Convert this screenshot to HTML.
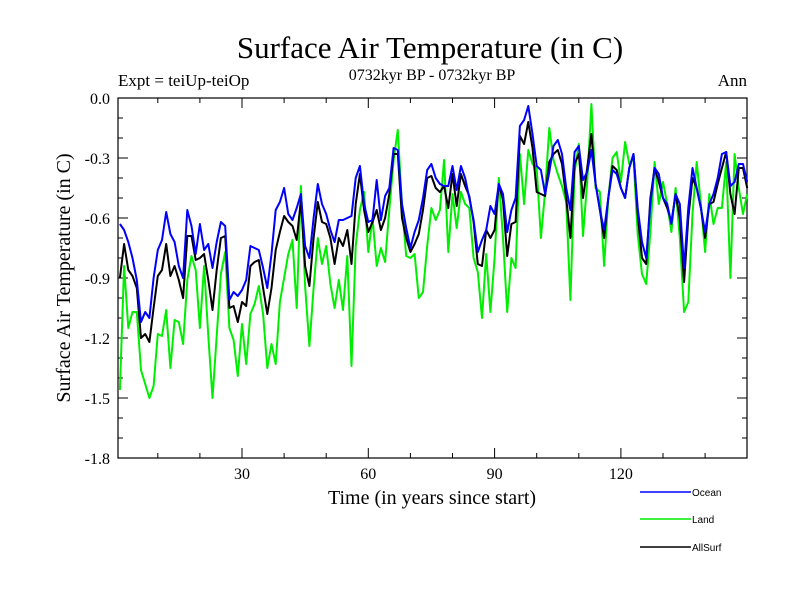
<!DOCTYPE html>
<html><head><meta charset="utf-8"><style>
body{margin:0;background:#fff;}
svg{display:block;}
text{font-family:"Liberation Serif",serif;}
</style></head><body>
<svg id="chart" width="800" height="600" xmlns="http://www.w3.org/2000/svg">
<text x="430" y="58" font-size="31" text-anchor="middle">Surface Air Temperature (in C)</text>
<text x="118" y="86" font-size="17">Expt = teiUp-teiOp</text>
<text x="432" y="80" font-size="16" text-anchor="middle">0732kyr BP - 0732kyr BP</text>
<text x="747" y="86" font-size="17" text-anchor="end">Ann</text>
<text x="0" y="0" font-size="20" text-anchor="middle" transform="translate(70,278) rotate(-90)">Surface Air Temperature (in C)</text>
<text x="432" y="504" font-size="20" text-anchor="middle">Time (in years since start)</text>
<g id="axes"></g>
<g id="series"></g>
<g id="legend"></g>
</svg>
<script>
const years = Array.from({length:150},(_,i)=>i+1);
const ocean = [-0.63,-0.66,-0.72,-0.80,-0.91,-1.12,-1.07,-1.10,-0.90,-0.76,-0.71,-0.57,-0.68,-0.72,-0.84,-0.90,-0.56,-0.64,-0.78,-0.63,-0.76,-0.73,-0.85,-0.72,-0.62,-0.64,-1.01,-0.97,-0.99,-0.96,-0.91,-0.74,-0.75,-0.76,-0.85,-0.95,-0.78,-0.56,-0.52,-0.45,-0.58,-0.61,-0.55,-0.48,-0.74,-0.80,-0.60,-0.43,-0.53,-0.58,-0.66,-0.72,-0.61,-0.61,-0.60,-0.59,-0.40,-0.34,-0.53,-0.62,-0.61,-0.41,-0.61,-0.49,-0.45,-0.25,-0.26,-0.53,-0.65,-0.75,-0.67,-0.61,-0.50,-0.36,-0.33,-0.40,-0.43,-0.44,-0.44,-0.34,-0.46,-0.34,-0.40,-0.50,-0.61,-0.77,-0.71,-0.66,-0.54,-0.58,-0.43,-0.48,-0.67,-0.56,-0.50,-0.14,-0.11,-0.04,-0.18,-0.34,-0.36,-0.48,-0.37,-0.24,-0.21,-0.28,-0.45,-0.56,-0.27,-0.24,-0.41,-0.37,-0.26,-0.43,-0.56,-0.66,-0.50,-0.36,-0.38,-0.45,-0.50,-0.35,-0.28,-0.55,-0.72,-0.80,-0.53,-0.35,-0.38,-0.50,-0.53,-0.63,-0.48,-0.53,-0.85,-0.55,-0.35,-0.45,-0.55,-0.67,-0.53,-0.48,-0.40,-0.28,-0.27,-0.44,-0.42,-0.33,-0.33,-0.42];
const land = [-1.46,-0.84,-1.15,-1.07,-1.07,-1.36,-1.43,-1.50,-1.44,-1.18,-1.19,-1.06,-1.35,-1.11,-1.12,-1.23,-0.91,-0.79,-0.86,-1.15,-0.84,-1.19,-1.50,-1.19,-0.88,-0.77,-1.15,-1.21,-1.39,-1.13,-1.33,-1.08,-1.03,-0.94,-1.08,-1.35,-1.23,-1.33,-1.02,-0.90,-0.78,-0.71,-1.05,-0.44,-0.94,-1.24,-0.95,-0.70,-0.83,-0.74,-0.93,-1.05,-0.91,-1.06,-0.79,-1.34,-0.74,-0.56,-0.47,-0.77,-0.60,-0.84,-0.75,-0.82,-0.56,-0.31,-0.16,-0.54,-0.79,-0.80,-0.78,-1.00,-0.97,-0.74,-0.55,-0.61,-0.56,-0.31,-0.77,-0.48,-0.65,-0.47,-0.53,-0.55,-0.80,-0.87,-1.10,-0.78,-1.07,-0.80,-0.40,-0.70,-1.07,-0.80,-0.85,-0.28,-0.53,-0.26,-0.33,-0.35,-0.70,-0.47,-0.15,-0.31,-0.38,-0.44,-0.52,-1.01,-0.37,-0.23,-0.69,-0.42,-0.03,-0.45,-0.47,-0.84,-0.50,-0.30,-0.27,-0.42,-0.22,-0.33,-0.30,-0.68,-0.88,-0.93,-0.67,-0.32,-0.53,-0.42,-0.53,-0.67,-0.45,-0.70,-1.07,-1.02,-0.58,-0.32,-0.53,-0.77,-0.48,-0.63,-0.55,-0.55,-0.32,-0.90,-0.28,-0.45,-0.58,-0.48];
const allSurf = [-0.90,-0.73,-0.86,-0.89,-0.95,-1.20,-1.18,-1.22,-1.05,-0.89,-0.86,-0.73,-0.89,-0.84,-0.91,-1.00,-0.69,-0.69,-0.81,-0.80,-0.78,-0.91,-1.06,-0.86,-0.70,-0.69,-1.05,-1.04,-1.12,-1.02,-1.04,-0.84,-0.82,-0.81,-0.95,-1.08,-0.95,-0.76,-0.67,-0.59,-0.62,-0.64,-0.71,-0.51,-0.84,-0.94,-0.70,-0.52,-0.62,-0.63,-0.70,-0.83,-0.70,-0.74,-0.66,-0.83,-0.53,-0.38,-0.56,-0.67,-0.62,-0.56,-0.66,-0.60,-0.48,-0.28,-0.28,-0.60,-0.70,-0.77,-0.73,-0.68,-0.56,-0.40,-0.39,-0.45,-0.47,-0.44,-0.55,-0.38,-0.54,-0.38,-0.44,-0.49,-0.62,-0.83,-0.84,-0.66,-0.70,-0.66,-0.43,-0.51,-0.79,-0.63,-0.62,-0.19,-0.23,-0.12,-0.25,-0.47,-0.48,-0.49,-0.32,-0.28,-0.26,-0.33,-0.50,-0.70,-0.33,-0.28,-0.50,-0.35,-0.18,-0.43,-0.56,-0.70,-0.50,-0.34,-0.36,-0.45,-0.50,-0.35,-0.28,-0.58,-0.80,-0.83,-0.50,-0.35,-0.42,-0.50,-0.55,-0.62,-0.48,-0.60,-0.92,-0.60,-0.40,-0.45,-0.55,-0.70,-0.53,-0.52,-0.43,-0.35,-0.27,-0.48,-0.58,-0.35,-0.35,-0.45];
const yTickValues = [0.0,-0.3,-0.6,-0.9,-1.2,-1.5,-1.8];
const yTickLabels = ["0.0","-0.3","-0.6","-0.9","-1.2","-1.5","-1.8"];
const xTickValues = [30,60,90,120];
const xTickLabels = ["30","60","90","120"];

const NS="http://www.w3.org/2000/svg";
const L=118,R=747,T=98,B=458;
const xs=v=>115.7+4.21*v;
const ys=v=>T+(0-v)/1.8*(B-T);
function mk(tag,attrs,parent){const e=document.createElementNS(NS,tag);for(const k in attrs)e.setAttribute(k,attrs[k]);parent.appendChild(e);return e;}
const axes=document.getElementById('axes');
const frame=mk('rect',{x:L,y:T,width:R-L,height:B-T,fill:'none',stroke:'#000','stroke-width':1.2},axes);


for(let v=0;v>=-1.8001;v-=0.1){
  const y=ys(v);const major=Math.abs(Math.round(v*10))%3===0;const len=major?10:5;
  const t1=mk('line',{x1:L,y1:y,x2:L+len,y2:y,stroke:'#000'},axes);
  
  
  const t2=mk('line',{x1:R,y1:y,x2:R-len,y2:y,stroke:'#000'},axes);
  
  
}
yTickValues.forEach((v,i)=>{
  const t=mk('text',{x:L-8,y:ys(v)+6,'font-size':16,'text-anchor':'end'},axes);t.textContent=yTickLabels[i];
  
  
});
for(let v=10;v<=150;v+=10){
  const x=xs(v);if(x>R)continue;const major=v%30===0;const len=major?10:5;
  const a=mk('line',{x1:x,y1:B,x2:x,y2:B-len,stroke:'#000'},axes);
  
  
  const b=mk('line',{x1:x,y1:T,x2:x,y2:T+len,stroke:'#000'},axes);
  
  
}
xTickValues.forEach((v,i)=>{
  const t=mk('text',{x:xs(v),y:B+21,'font-size':16,'text-anchor':'middle'},axes);t.textContent=xTickLabels[i];
  
  
});
const series=document.getElementById('series');
function drawLine(data,color,name){
  const d=data.map((v,i)=>(i?'L':'M')+xs(years[i]).toFixed(1)+','+ys(v).toFixed(1)).join('');
  const p=mk('path',{d:d,fill:'none',stroke:color,'stroke-width':2,'stroke-linejoin':'round'},series);
  
  
}
drawLine(land,'#00ee00','land-line');
drawLine(allSurf,'#000000','allsurf-line');
drawLine(ocean,'#0000ff','ocean-line');
const lg=document.getElementById('legend');
[["Ocean","#0000ff",492],["Land","#00ee00",519],["AllSurf","#000000",547]].forEach(e=>{
  const l=mk('line',{x1:640,y1:e[2],x2:691,y2:e[2],stroke:e[1],'stroke-width':1.5},lg);
  
  
  const t=mk('text',{x:692,y:e[2]+4,'font-size':10,style:'font-family:"Liberation Sans",sans-serif'},lg);t.textContent=e[0];
  
  
});
</script>
</body></html>
